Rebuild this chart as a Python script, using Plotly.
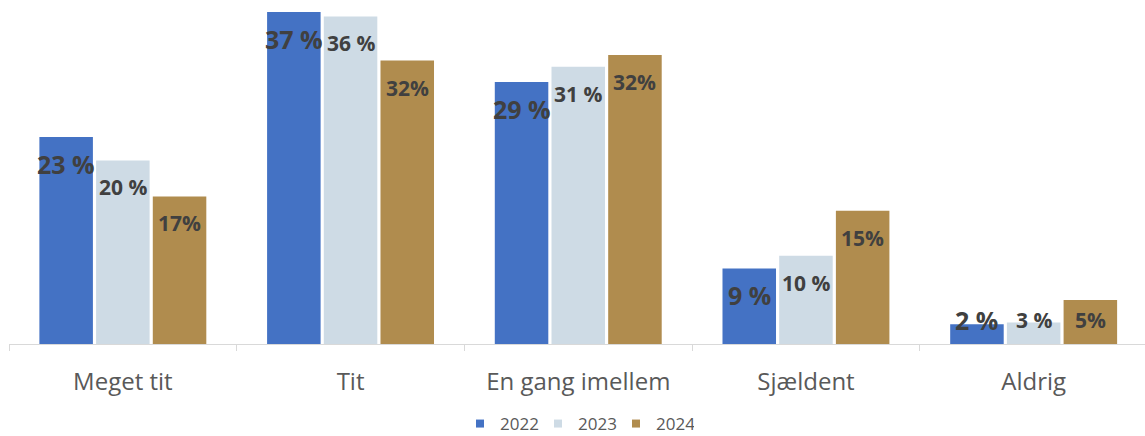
import plotly.graph_objects as go

categories = ["Meget tit", "Tit", "En gang imellem", "Sjældent", "Aldrig"]
years = ["2022", "2023", "2024"]
values_2022 = [23.0, 36.9, 29.1, 8.4, 2.2]
values_2023 = [20.4, 36.4, 30.8, 9.8, 2.4]
values_2024 = [16.4, 31.5, 32.1, 14.8, 4.9]
labels_2022 = ["23 %", "37 %", "29 %", "9 %", "2 %"]
labels_2023 = ["20 %", "36 %", "31 %", "10 %", "3 %"]
labels_2024 = ["17%", "32%", "32%", "15%", "5%"]

colors = ["#4472C4", "#CEDBE5", "#B08C4E"]
label_sizes = [25, 21, 21]
series = [values_2022, values_2023, values_2024]
labels = [labels_2022, labels_2023, labels_2024]

FONT = "Open Sans"
W, H = 1145, 436
mt, mb, ml, mr = 4, 92, 9, 0
plot_h = H - mt - mb
plot_w = W - ml - mr
px_per_unit = 9.0
ymax = plot_h / px_per_unit
cat_px = 227.7
xmax = -0.5 + plot_w / cat_px

fig = go.Figure()
for yr, vals, col in zip(years, series, colors):
    fig.add_trace(go.Bar(
        x=categories, y=vals, name=yr, marker=dict(color=col, line=dict(width=0)),
        showlegend=False, hoverinfo="skip"))
    fig.add_trace(go.Scatter(
        x=[None], y=[None], mode="markers", name=yr,
        marker=dict(symbol="square", size=8, color=col)))

bargap = 0.253
group_px = cat_px * (1 - bargap)
bar_slot = group_px / 3
for i, (vals, labs) in enumerate(zip(series, labels)):
    for cat, v, lab in zip(categories, vals, labs):
        bar_px = v * px_per_unit
        if bar_px - 27 > 24:
            y, ys = v, -27
        else:
            y, ys = 0, 24
        fig.add_annotation(
            x=cat, y=y, xref="x", yref="y", text=lab, showarrow=False,
            xshift=(i - 1) * bar_slot, yshift=ys, yanchor="middle", xanchor="center",
            font=dict(family=FONT, size=label_sizes[i], color="#404040", weight="bold"))

fig.update_layout(
    width=W, height=H,
    margin=dict(t=mt, b=mb, l=ml, r=mr, autoexpand=False),
    barmode="group", bargap=bargap, bargroupgap=0.056,
    plot_bgcolor="white", paper_bgcolor="white",
    font=dict(family=FONT, color="#595959"),
    legend=dict(orientation="h", x=0.5, xanchor="center",
                yref="container", y=12 / H, yanchor="middle",
                font=dict(size=17, color="#595959"), itemwidth=30,
                entrywidth=33, entrywidthmode="pixels"),
    xaxis=dict(showline=True, linecolor="#D9D9D9", linewidth=1, ticks="outside",
               tickson="boundaries", ticklen=6, tickcolor="#D9D9D9",
               tickfont=dict(size=24, color="#595959"), ticklabelstandoff=16,
               range=[-0.5, xmax], showgrid=False, automargin=False),
    yaxis=dict(visible=False, range=[0, ymax], showgrid=False),
)
fig.write_html("out.html", config={"displayModeBar": False},
               post_script="document.body.style.margin='0';")
